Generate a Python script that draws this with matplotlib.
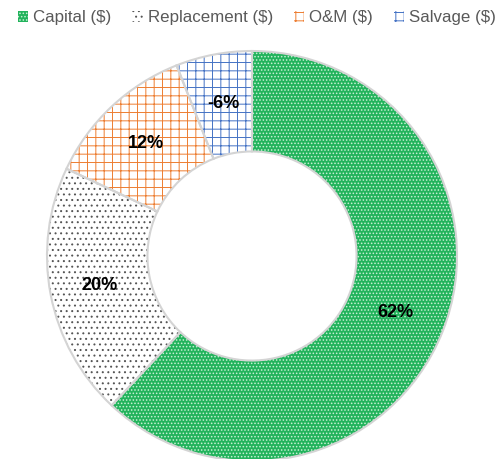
import matplotlib.pyplot as plt
from matplotlib.patches import Patch
import numpy as np

plt.rcParams['font.family'] = ['Liberation Sans', 'DejaVu Sans']
plt.rcParams['hatch.linewidth'] = 0.7

categories = ['Capital ($)', 'Replacement ($)', 'O&M ($)', 'Salvage ($)']
shares = [62, 20, 12, -6]          # percent of life-cycle cost
face = ['#22b35c', 'white', 'white', 'white']
hatch_col = ['#c9f0d6', '#555555', '#ED7D31', '#4472C4']
hatches = ['.....', '...', '++', '++']

fig = plt.figure(figsize=(5.04, 4.59), dpi=100)
ax = fig.add_axes([0, 0, 1, 1])

# pie sizes must be positive, salvage is shown by its magnitude
sizes = [abs(v) for v in shares]
cx, cy, R = 252, 459 - 256, 205
width = 0.49

wedges, _ = ax.pie(sizes, startangle=90, counterclock=False, center=(cx, cy),
                   radius=R, wedgeprops=dict(width=R * width, linewidth=0))
for w, fc, hc, h in zip(wedges, face, hatch_col, hatches):
    w.set_facecolor(fc)
    w.set_edgecolor(hc)
    w.set_hatch(h)
    w.set_linewidth(0)

# thin light grey outline on top
outline, _ = ax.pie(sizes, startangle=90, counterclock=False, center=(cx, cy),
                    radius=R, wedgeprops=dict(width=R * width, facecolor='none',
                                              edgecolor='#d4d4d4', linewidth=1.5))

ang = 90.0
tot = sum(sizes)
rmid = R * (1 - width / 2)
for v, s in zip(shares, sizes):
    span = 360.0 * s / tot
    mid = np.deg2rad(ang - span / 2)
    ax.text(cx + rmid * np.cos(mid), cy + rmid * np.sin(mid), f'{v}%',
            ha='center', va='center', fontsize=13, fontweight='bold', color='black')
    ang -= span

ax.set_xlim(0, 504)
ax.set_ylim(0, 459)
ax.set_aspect('auto')
ax.axis('off')

handles = [Patch(facecolor=fc, edgecolor=hc, hatch=h, linewidth=0)
           for fc, hc, h in zip(face, hatch_col, hatches)]
fig.legend(handles, categories, loc='upper center', bbox_to_anchor=(0.51, 1.0),
           ncol=4, frameon=False, fontsize=12.2, handlelength=0.6, handleheight=0.6,
           handletextpad=0.3, columnspacing=1.25, labelcolor='#595959',
           borderaxespad=0.2)

fig.savefig('out.png', dpi=100)
